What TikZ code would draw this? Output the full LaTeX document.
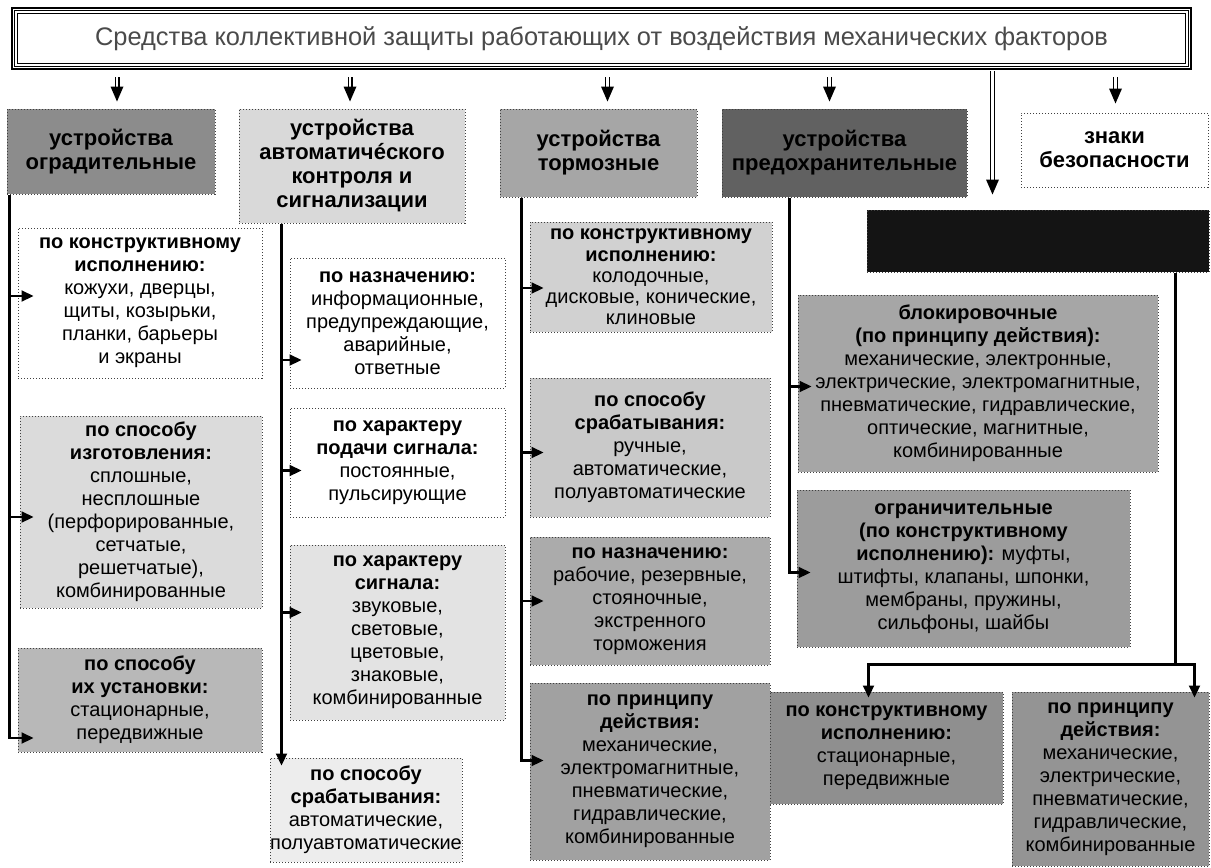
\documentclass[tikz,border=0pt]{standalone}
\usepackage{fontspec}
\setmainfont{Liberation Sans}
\usetikzlibrary{arrows.meta,calc}

\definecolor{titlegray}{HTML}{4A4A4A}

\tikzset{
  box/.style={draw=black!75, densely dotted, line width=0.5pt, inner sep=0pt,
    align=center, text=black, font=\fontsize{10}{11.5}\selectfont},
  tightbox/.style={box, font=\fontsize{10}{10.6}\selectfont},
  headbox/.style={box, font=\fontsize{11}{12}\selectfont\bfseries},
  conn/.style={line width=1.1pt},
  arr/.style={conn, -{Triangle[length=6pt,width=5.5pt]}},
  dshaft/.style={draw=black, double=white, double distance=1.3pt, line width=0.6pt},
}

% box from top-left (x1,y1) to bottom-right (x2,y2), given in picture units
\newcommand\mkbox[8][box]{%
  \pgfmathsetmacro\bxw{(#5-#3)/2}%
  \pgfmathsetmacro\bxh{(#6-#4)/2}%
  \node[#1, fill=#7, minimum width=\bxw pt, minimum height=\bxh pt]
    (#2) at ({(#3+#5)/2},{(#4+#6)/2}) {#8};}

% double-shafted arrow with a solid head; #1 start, #2 tip
\newcommand\dblarrow[2]{%
  \draw[dshaft] #1 -- ($(#2)+(0,-14)$);
  \fill ($(#2)+(-6.5,-15)$) -- ($(#2)+(6.5,-15)$) -- (#2) -- cycle;}

\begin{document}
\begin{tikzpicture}[x=0.5pt,y=-0.5pt]
\useasboundingbox[fill=white] (0,0) rectangle (1211,868);

% title frame
\node[draw=black, line width=1.3pt, minimum width=589.5pt, minimum height=30.5pt,
      inner sep=0pt, text=titlegray, font=\fontsize{12.7}{14}\selectfont]
  (title) at (601.5,38.5) {Средства коллективной защиты работающих от воздействия механических факторов};
\draw[line width=0.5pt] ($(title.north west)+(4,4)$) rectangle ($(title.south east)+(-4,-4)$);
\draw[line width=0.5pt] ($(title.north west)+(7,7)$) rectangle ($(title.south east)+(-7,-7)$);

% first level
\mkbox[headbox]{h1}{7}{109}{215}{194}{black!45}{устройства\\оградительные}
\mkbox[headbox]{h2}{239}{109}{465}{223}{black!15}{устройства\\автоматичéского\\контроля и\\сигнализации}
\mkbox[headbox]{h3}{500}{109}{697}{197}{black!35}{устройства\\тормозные}
\mkbox[headbox]{h4}{722}{109}{967}{197}{black!62}{устройства\\предохранительные}
\mkbox[headbox]{h5}{1021}{113}{1208}{187}{white}{знаки\\безопасности}
\mkbox{bb}{867}{210}{1209}{272}{black!92}{}

% column 1
\mkbox{b11}{18}{228}{262}{378}{white}{\textbf{по конструктивному}\\\textbf{исполнению:}\\кожухи, дверцы,\\щиты, козырьки,\\планки, барьеры\\и экраны}
\mkbox{b12}{20}{416}{262}{608}{black!14}{\textbf{по способу}\\\textbf{изготовления:}\\сплошные,\\несплошные\\(перфорированные,\\сетчатые,\\решетчатые),\\комбинированные}
\mkbox{b13}{18}{648}{262}{752}{black!28}{\textbf{по способу}\\\textbf{их установки:}\\стационарные,\\передвижные}

% column 2
\mkbox{b21}{290}{258}{505}{388}{white}{\textbf{по назначению:}\\информационные,\\предупреждающие,\\аварийные,\\ответные}
\mkbox{b22}{290}{408}{505}{517}{white}{\textbf{по характеру}\\\textbf{подачи сигнала:}\\постоянные,\\пульсирующие}
\mkbox{b23}{290}{545}{505}{720}{black!11}{\textbf{по характеру}\\\textbf{сигнала:}\\звуковые,\\световые,\\цветовые,\\знаковые,\\комбинированные}
\mkbox{b24}{270}{758}{462}{862}{black!7}{\textbf{по способу}\\\textbf{срабатывания:}\\автоматические,\\полуавтоматические}

% column 3
\mkbox[tightbox]{b31}{530}{222}{772}{332}{black!18}{\textbf{по конструктивному}\\\textbf{исполнению:}\\колодочные,\\дисковые, конические,\\клиновые}
\mkbox{b32}{530}{378}{770}{517}{black!21}{\textbf{по способу}\\\textbf{срабатывания:}\\ручные,\\автоматические,\\полуавтоматические}
\mkbox{b33}{530}{537}{770}{665}{black!33}{\textbf{по назначению:}\\рабочие, резервные,\\стояночные,\\экстренного\\торможения}
\mkbox{b34}{530}{683}{770}{860}{black!37}{\textbf{по принципу}\\\textbf{действия:}\\механические,\\электромагнитные,\\пневматические,\\гидравлические,\\комбинированные}

% column 4
\mkbox{b41}{798}{295}{1158}{472}{black!35}{\textbf{блокировочные}\\\textbf{(по принципу действия):}\\механические, электронные,\\электрические, электромагнитные,\\пневматические, гидравлические,\\оптические, магнитные,\\комбинированные}
\mkbox{b42}{797}{490}{1130}{647}{black!39}{\textbf{ограничительные}\\\textbf{(по конструктивному}\\\textbf{исполнению):} муфты,\\штифты, клапаны, шпонки,\\мембраны, пружины,\\сильфоны, шайбы}

% bottom right
\mkbox{b51}{770}{692}{1003}{804}{black!44}{\textbf{по конструктивному}\\\textbf{исполнению:}\\стационарные,\\передвижные}
\mkbox{b52}{1012}{692}{1209}{866}{black!42}{\textbf{по принципу}\\\textbf{действия:}\\механические,\\электрические,\\пневматические,\\гидравлические,\\комбинированные}

% arrows from the title
\coordinate (a1) at ($(h1.north)+(6,-7)$);
\coordinate (a2) at ($(h2.north)+(-2,-7)$);
\coordinate (a3) at ($(h3.north)+(9,-7)$);
\coordinate (a4) at ($(h4.north)+(-15,-7)$);
\coordinate (a5) at ($(h5.north)+(1,-9)$);
\coordinate (a6) at ($(bb.north west)+(126,-15)$);
\dblarrow{($(title.south -| a1)+(0,7)$)}{a1}
\dblarrow{($(title.south -| a2)+(0,7)$)}{a2}
\dblarrow{($(title.south -| a3)+(0,7)$)}{a3}
\dblarrow{($(title.south -| a4)+(0,7)$)}{a4}
\dblarrow{($(title.south -| a5)+(0,7)$)}{a5}
\dblarrow{($(title.south -| a6)+(0,1)$)}{a6}

% trunks and branches
\coordinate (k1) at ($(h1.south west)+(3,0)$);
\coordinate (k2) at ($(h2.south west)+(43,0)$);
\coordinate (k3) at ($(h3.south west)+(22,0)$);
\coordinate (k4) at ($(h4.south west)+(68,0)$);

\draw[arr] (k1) |- ($(b11.west)+(16,-7)$);
\draw[arr] (k1) |- ($(b12.west)+(14,5)$);
\draw[arr] (k1) |- ($(b13.west)+(16,38)$);

\draw[arr] (k2) |- ($(b21.west)+(12,37)$);
\draw[arr] (k2) |- ($(b22.west)+(12,8)$);
\draw[arr] (k2) |- ($(b23.west)+(12,-20)$);
\draw[arr] (k2) -- ($(k2 |- b24.north)+(0,8)$);

\draw[arr] (k3) |- ($(b31.west)+(14,11)$);
\draw[arr] (k3) |- ($(b32.west)+(14,5)$);
\draw[arr] (k3) |- ($(b33.west)+(14,0)$);
\draw[arr] (k3) |- ($(b34.west)+(14,-11)$);

\draw[arr] (k4) |- ($(b41.west)+(14,3)$);
\draw[arr] (k4) |- ($(b42.west)+(14,4)$);

\coordinate (k5) at ($(bb.south east)+(-34,0)$);
\coordinate (jn) at ($(k5)+(0,392)$);
\draw[conn] (k5) -- (jn);
\draw[arr] (jn) -| ($(b51.north)+(-18,6)$);
\draw[arr] (jn) -| ($(b52.north)+(84,6)$);
\end{tikzpicture}
\end{document}
